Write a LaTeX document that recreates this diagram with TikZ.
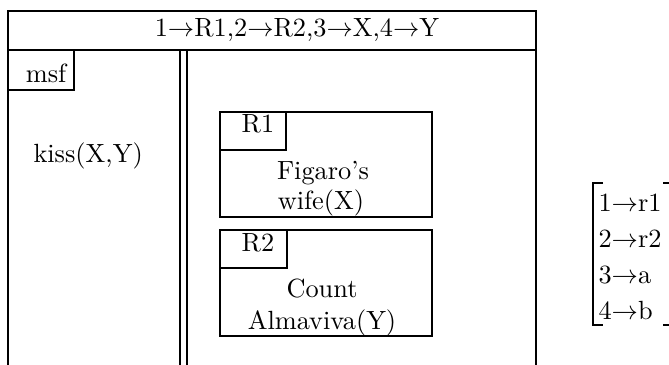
\documentclass[tikz,border=0pt]{standalone}
\usepackage{amsmath}
\usepackage{tikz}

\begin{document}
\begin{tikzpicture}[x=0.38pt, y=-0.38pt]
\useasboundingbox (0,0) rectangle (669,365);
% frame and title bar
\draw[thick, black] (8, 365) -- (8, 11) -- (536, 11) -- (536, 365);
\draw[thick, black] (8, 50) -- (536, 50);
% double rule between the columns
\draw[thick, black] (180, 50) -- (180, 365);
\draw[thick, black] (187, 50) -- (187, 365);
% msf tab
\draw[thick, black] (8, 90) -- (74, 90) -- (74, 50);
% R1 box
\draw[thick, black] (220, 112) rectangle (432, 217);
\draw[thick, black] (220, 150) -- (286, 150) -- (286, 112);
% R2 box
\draw[thick, black] (220, 230) rectangle (432, 336);
\draw[thick, black] (220, 268) -- (287, 268) -- (287, 230);
% brackets
\draw[thick, black] (603, 183) -- (593, 183) -- (593, 325) -- (603, 325);
\draw[thick, black] (663, 183) -- (670, 183) -- (670, 325) -- (663, 325);


\node[anchor=base, inner sep=0] (title) at (297, 37) {1$\rightarrow$R1,2$\rightarrow$R2,3$\rightarrow$X,4$\rightarrow$Y};
\node[anchor=base, inner sep=0] (msf) at (46, 83) {msf};
\node[anchor=base west, inner sep=0] (kiss) at (33, 163) {kiss(X,Y)};

\node[anchor=base, inner sep=0] (r1) at (258, 133) {R1};
\node[anchor=base, inner sep=0] (fig) at (323, 180) {Figaro's};
\node[anchor=base, inner sep=0] (wife) at (321, 210) {wife(X)};

\node[anchor=base, inner sep=0] (r2) at (258, 252) {R2};
\node[anchor=base, inner sep=0] (count) at (322, 298) {Count};
\node[anchor=base, inner sep=0] (alma) at (322, 330) {Almaviva(Y)};

\node[anchor=base west, inner sep=0] (m1) at (598, 212) {1$\rightarrow$r1};
\node[anchor=base west, inner sep=0] (m2) at (598, 248) {2$\rightarrow$r2};
\node[anchor=base west, inner sep=0] (m3) at (598, 284) {3$\rightarrow$a};
\node[anchor=base west, inner sep=0] (m4) at (598, 320) {4$\rightarrow$b};



\end{tikzpicture}
\end{document}
